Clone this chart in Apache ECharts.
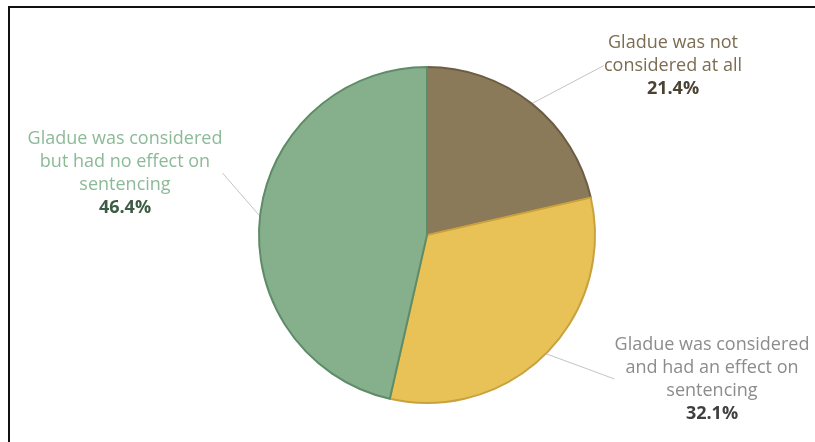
<!DOCTYPE html>
<html>
<head>
<meta charset="utf-8">
<script src="https://cdn.jsdelivr.net/npm/echarts@6/dist/echarts.min.js"></script>
<style>
  html, body { margin: 0; padding: 0; background: #fff; }
  #frame {
    position: absolute; left: 8px; top: 6px; right: 0; bottom: 0;
    border-top: 2px solid #111; border-left: 2px solid #111;
  }
  #pie { position: absolute; left: 0; top: 0; width: 815px; height: 442px; }
</style>
</head>
<body>
<div id="frame"></div>
<div id="pie"></div>
<script>
// slice order: clockwise from 12 o'clock
var categories = [
  'Gladue was not\nconsidered at all',
  'Gladue was considered\nand had an effect on\nsentencing',
  'Gladue was considered\nbut had no effect on\nsentencing'
];
var shares = [21.4, 32.1, 46.4];

var fills = ['#8a7a5a', '#e9c257', '#86b08b'];
var strokes = ['#6c5d44', '#c9a13e', '#5f8c68'];
var nameColors = ['#7b6c52', '#8c8c8c', '#8cba98'];
var pctColors = ['#4b4232', '#3f3f3f', '#3d5c45'];
// label centres (x, y of first line top)
var labelSpots = [[673, 31], [712, 333], [125, 127]];

var chart = echarts.init(document.getElementById('pie'));

chart.setOption({
  animation: false,
  series: [{
    type: 'pie',
    center: [427, 235],
    radius: 168,
    startAngle: 90,
    clockwise: true,
    data: categories.map(function (name, i) {
      return {
        name: name,
        value: shares[i],
        itemStyle: { color: fills[i], borderColor: strokes[i], borderWidth: 2 },
        label: {
          rich: {
            n: { color: nameColors[i], fontSize: 18, lineHeight: 23, fontFamily: 'Open Sans', align: 'center' },
            p: { color: pctColors[i], fontSize: 18, lineHeight: 23, fontFamily: 'Open Sans', fontWeight: 'bold', align: 'center' }
          }
        }
      };
    }),
    label: {
      show: true,
      position: 'outside',
      overflow: 'none',
      padding: [0, 8],
      formatter: function (p) {
        return p.name.split('\n').map(function (s) { return '{n|' + s + '}'; }).join('\n') +
          '\n{p|' + p.value + '%}';
      }
    },
    labelLine: {
      show: true,
      length: 20,
      length2: 0,
      lineStyle: { color: '#c4c4c4', width: 1 }
    },
    labelLayout: function (params) {
      var s = labelSpots[params.dataIndex];
      return { x: s[0], y: s[1], align: 'center', verticalAlign: 'top' };
    },
    emphasis: { disabled: true }
  }]
});
</script>
</body>
</html>
